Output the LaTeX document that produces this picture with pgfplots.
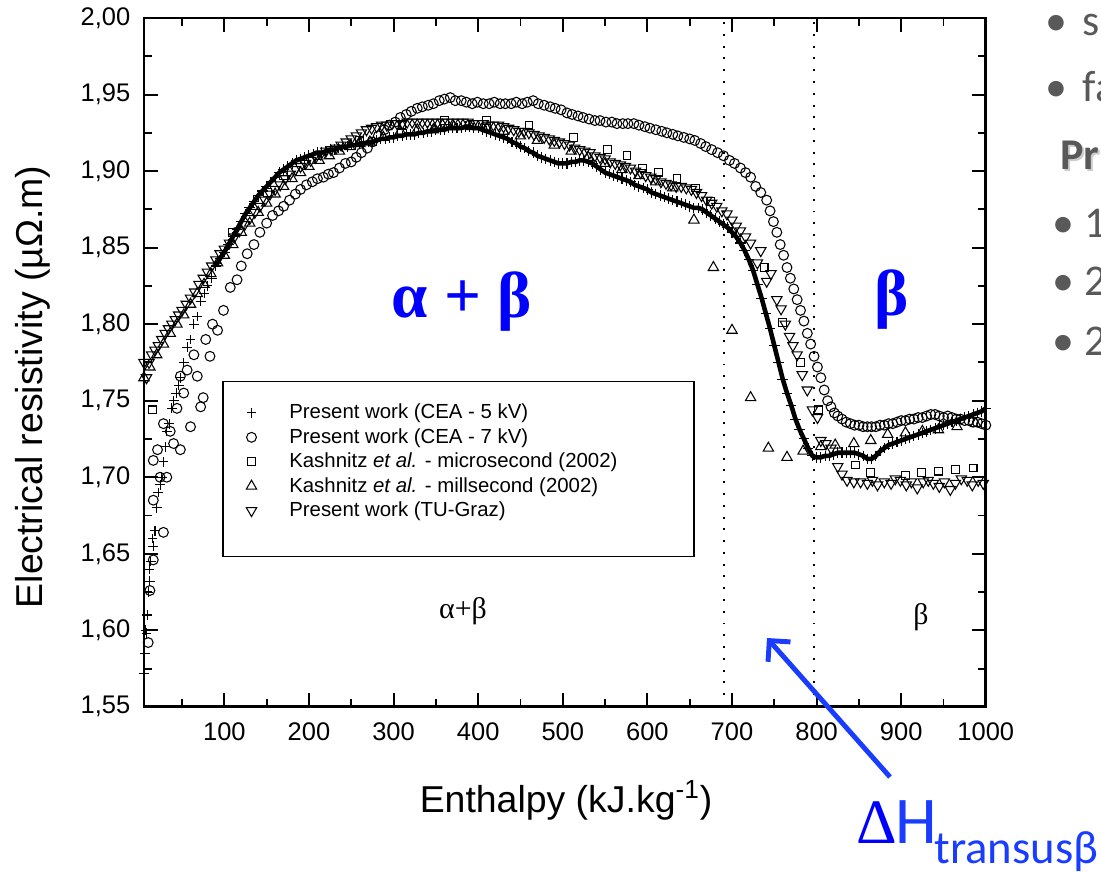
\documentclass[border=0pt]{standalone}
\usepackage{pgfplots}
\pgfplotsset{compat=1.18}
\usepackage{fontspec}
\setmainfont{Liberation Sans}
\newfontfamily\seriff{Liberation Serif}
\newfontfamily\calf{Carlito}
\usetikzlibrary{arrows.meta}
\definecolor{myblue}{RGB}{0,0,255}
\definecolor{arrblue}{RGB}{25,60,255}
\definecolor{slidegray}{RGB}{89,89,89}
\newcommand{\fs}[1]{\fontsize{#1}{#1}\selectfont}
\begin{document}
\begin{tikzpicture}
\begin{scope}[x=0.02cm,y=-0.02cm]
\useasboundingbox (0,0) rectangle (1101,868);
\end{scope}
\begin{axis}[
  at={(2.88cm,-14.14cm)}, anchor=south west,
  scale only axis, width=16.84cm, height=13.78cm,
  xmin=5, xmax=1000, ymin=1.55, ymax=2.00,
  xtick={100,200,300,400,500,600,700,800,900,1000},
  minor xtick={50,150,250,350,450,550,650,750,850,950},
  ytick={1.55,1.6,1.65,1.7,1.75,1.8,1.85,1.9,1.95,2.0},
  minor ytick={1.575,1.625,1.675,1.725,1.775,1.825,1.875,1.925,1.975},
  tick align=inside, tick pos=both,
  major tick length=0.28cm, minor tick length=0.16cm,
  every tick/.style={black, line width=1.1pt},
  axis line style={line width=1.6pt},
  /pgf/number format/assume math mode=true,
  tick label style={font=\fs{14.5pt}},
  yticklabel style={/pgf/number format/.cd, fixed, fixed zerofill, precision=2, use comma, /tikz/.cd, xshift=-0.15cm},
  xticklabel style={/pgf/number format/.cd, fixed, precision=0, 1000 sep={}, /tikz/.cd, yshift=-0.19cm},
  legend style={at={(axis description cs:0.0926,0.4732)}, anchor=north west, draw=black, line width=0.9pt,
    inner xsep=0pt, inner ysep=0.38cm, font=\fs{11.6pt}},
  legend cell align=left,
  legend image code/.code={\draw[#1] plot coordinates {(0cm,0cm)}; \path (-0.56cm,0cm) (0.67cm,0cm);},
]
% CEA 5 kV : scattered start
\addplot[only marks, mark=+, mark size=2.8pt, mark options={black, line width=0.6pt}] coordinates {
(5,1.572)(6,1.585)(7,1.600)(8,1.598)(9,1.610)(10,1.625)(11,1.640)(12,1.632)(13,1.645)(15,1.660)(16,1.655)(18,1.665)
(20,1.680)(22,1.690)(24,1.695)(26,1.700)(28,1.710)(30,1.720)(32,1.730)(35,1.735)(38,1.745)(40,1.750)(43,1.755)(46,1.760)
(48,1.765)(52,1.775)(56,1.785)(60,1.790)(64,1.800)(68,1.805)(72,1.815)(76,1.820)(80,1.825)(85,1.830)(90,1.838)
};
\addlegendentry{\makebox[8.03cm][l]{Present work (CEA - 5 kV)}}
% CEA 5 kV : dense band
\addplot[forget plot, black, line width=2.6pt, mark=+, mark size=3pt, mark options={black, line width=0.6pt}] coordinates {
(90,1.838)(95,1.843)(100,1.847)(105,1.852)(110,1.857)(115,1.862)(120,1.867)(125,1.872)(130,1.876)(135,1.880)(140,1.884)(145,1.887)
(150,1.890)(155,1.893)(160,1.896)(165,1.899)(170,1.901)(175,1.903)(180,1.905)(185,1.907)(190,1.908)(195,1.909)(200,1.910)
(205,1.911)(210,1.912)(215,1.912)(220,1.913)(225,1.914)(230,1.914)(235,1.915)(240,1.916)(245,1.916)(250,1.917)(255,1.917)
(260,1.918)(265,1.918)(270,1.919)(275,1.919)(280,1.920)(285,1.921)(290,1.921)(295,1.922)(300,1.922)(305,1.923)(310,1.923)
(315,1.924)(320,1.924)(325,1.924)(330,1.925)(335,1.925)(340,1.926)(345,1.926)(350,1.927)(355,1.927)(360,1.927)(365,1.928)
(370,1.928)(375,1.928)(380,1.928)(385,1.929)(390,1.929)(395,1.928)(400,1.928)(405,1.927)(410,1.926)(415,1.925)(420,1.924)
(425,1.923)(430,1.922)(435,1.921)(440,1.919)(445,1.918)(450,1.916)(455,1.915)(460,1.913)(465,1.912)(470,1.910)(475,1.909)
(480,1.908)(485,1.907)(490,1.906)(495,1.905)(500,1.905)(505,1.905)(510,1.906)(515,1.906)(520,1.907)(525,1.907)(530,1.906)
(535,1.905)(540,1.903)(545,1.901)(550,1.899)(555,1.898)(560,1.897)(565,1.896)(570,1.895)(575,1.894)(580,1.893)(585,1.891)
(590,1.890)(595,1.889)(600,1.888)(605,1.886)(610,1.885)(615,1.884)(620,1.883)(625,1.882)(630,1.881)(635,1.880)(640,1.879)
(645,1.878)(650,1.877)(655,1.876)(660,1.876)(665,1.875)(670,1.873)(675,1.871)(680,1.869)(685,1.867)(690,1.865)(695,1.863)
(700,1.860)(705,1.857)(710,1.853)(715,1.848)(720,1.842)(725,1.835)(730,1.826)(735,1.817)(740,1.807)(745,1.797)(750,1.786)
(755,1.775)(760,1.764)(765,1.755)(770,1.747)(775,1.738)(780,1.731)(785,1.725)(790,1.719)(795,1.714)(800,1.713)(805,1.713)
(810,1.714)(815,1.714)(820,1.715)(825,1.716)(830,1.716)(835,1.716)(840,1.716)(845,1.716)(850,1.715)(855,1.714)(860,1.712)
(865,1.712)(870,1.714)(875,1.717)(880,1.719)(885,1.721)(890,1.722)(895,1.723)(900,1.724)(905,1.725)(910,1.726)(915,1.727)
(920,1.728)(925,1.729)(930,1.730)(935,1.731)(940,1.732)(945,1.733)(950,1.734)(955,1.735)(960,1.736)(965,1.737)(970,1.738)
(975,1.739)(980,1.740)(985,1.741)(990,1.742)(995,1.743)(1000,1.745)
};
% CEA 7 kV
\addplot[only marks, mark=o, mark size=2.8pt, mark options={black, fill=white, line width=0.6pt}] coordinates {
(10,1.592)(12,1.626)(16,1.646)(28,1.664)(16,1.685)(24,1.700)(32,1.700)(16,1.711)(21,1.718)(40,1.722)(28,1.735)(36,1.730)
(48,1.718)(44,1.745)(60,1.733)(52,1.755)(72,1.746)(75,1.752)(56,1.770)(48,1.766)(68,1.766)(64,1.780)(83,1.779)(78,1.790)
(92,1.796)(86,1.800)(99,1.809)(107,1.824)(115,1.829)(120,1.838)(127,1.846)(135,1.852)(142,1.860)(150,1.866)(157,1.871)
(164,1.874)(170,1.877)(177,1.881)(184,1.885)(190,1.888)(197,1.891)(204,1.893)(210,1.895)(217,1.896)(223,1.898)(229,1.899)
(236,1.902)(243,1.905)(250,1.906)(256,1.909)(262,1.912)(269,1.915)(275,1.919)(282,1.923)(289,1.927)(295,1.930)(302,1.932)
(308,1.935)(315,1.937)(321,1.939)(328,1.941)(334,1.942)(341,1.943)(347,1.944)(354,1.946)(360,1.947)(367,1.948)(373,1.946)
(380,1.946)(386,1.945)(393,1.944)(399,1.945)(406,1.944)(413,1.944)(419,1.945)(426,1.944)(432,1.944)(439,1.944)(445,1.945)
(452,1.944)(458,1.945)(465,1.946)(471,1.944)(478,1.943)(485,1.942)(491,1.941)(498,1.940)(505,1.938)(511,1.937)(518,1.936)
(524,1.935)(531,1.934)(538,1.933)(544,1.933)(551,1.932)(558,1.932)(564,1.931)(571,1.931)(577,1.931)(584,1.931)(590,1.930)
(597,1.929)(603,1.928)(610,1.927)(617,1.926)(623,1.925)(630,1.924)(636,1.923)(643,1.922)(650,1.921)(656,1.920)(663,1.918)
(669,1.916)(676,1.914)(683,1.912)(690,1.910)(697,1.907)(703,1.905)(710,1.902)(716,1.899)(722,1.896)(728,1.890)(734,1.886)
(741,1.881)(745,1.874)(749,1.867)(753,1.860)(757,1.852)(761,1.845)(765,1.837)(769,1.830)(773,1.823)(777,1.816)(781,1.809)
(785,1.802)(789,1.794)(793,1.787)(797,1.779)(801,1.772)(805,1.765)(809,1.757)(813,1.750)(817,1.746)(821,1.742)(825,1.740)
(830,1.738)(835,1.736)(840,1.735)(845,1.734)(850,1.734)(855,1.733)(860,1.733)(865,1.733)(870,1.733)(875,1.734)(880,1.734)
(885,1.735)(890,1.735)(895,1.736)(900,1.737)(905,1.737)(910,1.738)(915,1.738)(920,1.739)(925,1.739)(930,1.740)(935,1.741)
(940,1.741)(945,1.740)(950,1.739)(955,1.740)(960,1.739)(965,1.738)(970,1.738)(975,1.737)(980,1.737)(985,1.736)(990,1.736)
(995,1.735)(1000,1.734)
};
\addlegendentry{Present work (CEA - 7 kV)}
% Kashnitz microsecond
\addplot[only marks, mark=square, mark size=2.2pt, mark options={black, fill=white, line width=0.6pt}] coordinates {
(15,1.744)(110,1.860)(151,1.886)(170,1.897)(210,1.910)(260,1.920)(310,1.930)(360,1.933)(410,1.933)(460,1.930)
(513,1.922)(553,1.914)(576,1.910)(594,1.902)(613,1.899)(635,1.895)(657,1.889)(675,1.880)(738,1.837)(760,1.801)
(781,1.775)(802,1.744)(846,1.708)(864,1.703)(905,1.701)(924,1.703)(944,1.704)(964,1.705)(985,1.706)
};
\addlegendentry{Kashnitz \textit{et al.} - microsecond (2002)}
% Kashnitz millisecond
\addplot[only marks, mark=triangle, mark size=3.4pt, mark options={black, fill=white, line width=0.6pt}] coordinates {
(5,1.765)(12,1.772)(20,1.780)(28,1.787)(36,1.794)(44,1.800)(52,1.806)(60,1.813)(68,1.820)(76,1.826)(84,1.833)(92,1.840)
(100,1.845)(110,1.852)(120,1.860)(130,1.866)(140,1.873)(150,1.879)(160,1.885)(170,1.890)(180,1.895)(190,1.899)(200,1.903)
(212,1.907)(224,1.910)(236,1.913)(248,1.916)(260,1.918)(272,1.919)(288,1.922)(308,1.926)(328,1.927)(347,1.927)(371,1.929)
(391,1.929)(410,1.928)(430,1.926)(450,1.923)(470,1.920)(490,1.917)(510,1.913)(530,1.909)(550,1.905)(570,1.901)(590,1.897)
(610,1.893)(630,1.889)(655,1.868)(678,1.837)(700,1.796)(722,1.752)(743,1.719)(765,1.713)(784,1.717)(805,1.720)(822,1.721)
(844,1.722)(864,1.724)(884,1.728)(905,1.729)(925,1.730)(944,1.731)(966,1.733)(988,1.735)
};
\addlegendentry{Kashnitz \textit{et al.} - millsecond (2002)}
% TU-Graz
\addplot[only marks, mark=triangle, mark size=3.4pt, mark options={black, fill=white, line width=0.6pt, rotate=180}] coordinates {
(5,1.775)(8,1.765)(11,1.775)(14,1.780)(18,1.783)(22,1.786)(26,1.790)(30,1.794)(34,1.797)(38,1.800)(42,1.803)(46,1.806)
(50,1.809)(55,1.813)(60,1.817)(65,1.821)(70,1.826)(75,1.830)(80,1.834)(85,1.838)(90,1.842)(95,1.846)(100,1.849)(106,1.853)
(112,1.857)(118,1.861)(124,1.865)(130,1.869)(136,1.873)(142,1.877)(148,1.881)(154,1.885)(160,1.888)(166,1.891)(172,1.895)
(178,1.898)(184,1.901)(190,1.903)(196,1.905)(202,1.907)(208,1.909)(214,1.911)(220,1.913)(226,1.914)(232,1.915)(238,1.917)
(244,1.919)(250,1.921)(256,1.923)(262,1.925)(268,1.927)(274,1.928)(280,1.929)(286,1.930)(292,1.930)(298,1.931)(304,1.931)
(310,1.931)(316,1.932)(322,1.932)(328,1.932)(334,1.932)(340,1.932)(346,1.932)(352,1.932)(358,1.932)(364,1.932)(370,1.932)
(376,1.932)(382,1.932)(388,1.932)(394,1.931)(400,1.931)(406,1.931)(412,1.930)(418,1.930)(424,1.930)(430,1.929)(436,1.928)
(442,1.927)(448,1.926)(454,1.926)(460,1.925)(466,1.924)(472,1.923)(478,1.922)(484,1.921)(490,1.920)(496,1.919)(502,1.918)
(508,1.917)(514,1.915)(520,1.914)(526,1.913)(532,1.912)(538,1.910)(544,1.909)(550,1.908)(556,1.906)(562,1.905)(568,1.904)
(574,1.903)(580,1.902)(586,1.900)(592,1.899)(598,1.897)(604,1.896)(610,1.895)(616,1.893)(622,1.892)(628,1.891)(634,1.890)
(640,1.890)(646,1.889)(652,1.888)(658,1.886)(664,1.884)(670,1.881)(676,1.879)(682,1.877)(688,1.874)(694,1.872)(700,1.868)
(705,1.864)(710,1.861)(716,1.857)(722,1.853)(730,1.840)(734,1.848)(741,1.828)(746,1.833)(753,1.816)(758,1.810)(763,1.800)
(768,1.792)(772,1.786)(777,1.780)(783,1.767)(789,1.757)(795,1.744)(801,1.739)(805,1.724)(811,1.722)(817,1.719)(825,1.707)
(830,1.702)(836,1.698)(844,1.697)(852,1.697)(860,1.696)(866,1.698)(872,1.695)(880,1.697)(888,1.696)(893,1.699)(899,1.698)
(906,1.695)(912,1.697)(919,1.693)(926,1.697)(932,1.698)(938,1.696)(945,1.694)(951,1.697)(958,1.692)(964,1.696)(971,1.699)
(978,1.698)(984,1.695)(991,1.698)(997,1.696)
};
\addlegendentry{Present work (TU-Graz)}
\addlegendimage{empty legend}
\addlegendentry{\rule{0pt}{0.1cm}}
% dotted transus lines
\addplot[forget plot, black, line width=1.1pt, dash pattern=on 1.1pt off 5.6pt] coordinates {(690,1.55)(690,2.0)};
\addplot[forget plot, black, line width=1.1pt, dash pattern=on 1.1pt off 5.6pt] coordinates {(797,1.55)(797,2.0)};
\end{axis}
\begin{scope}[x=0.02cm,y=-0.02cm]
% axis labels
\node[rotate=90, anchor=base, inner sep=0pt, font=\fs{21.3pt}] at (42,387) {Electrical resistivity (µΩ.m)};
\node[anchor=base, inner sep=0pt, font=\fs{21.3pt}] at (566,812) {Enthalpy (kJ.kg\textsuperscript{-1})};
% phase labels
\node[anchor=base, inner sep=0pt, text=myblue, font=\seriff\bfseries\fs{37pt}] at (462,318) {α + β};
\node[anchor=base, inner sep=0pt, text=myblue, font=\seriff\bfseries\fs{37pt}] at (892,316) {β};
\node[anchor=base, inner sep=0pt, font=\seriff\fs{17pt}] at (463,618) {α+β};
\node[anchor=base, inner sep=0pt, font=\seriff\fs{17pt}] at (921,624) {β};
% arrow and transus label
\draw[arrblue, line width=2.8pt, -{Straight Barb[length=0.3cm,width=0.6cm]}] (890,777) -- (767,638);
\node[anchor=base west, inner sep=0pt, text=myblue, font=\seriff\fs{36pt}] at (856,843) {Δ};
\node[anchor=base west, inner sep=0pt, text=arrblue, font=\calf\fs{38pt}] at (895,843) {H};
\node[anchor=base west, inner sep=0pt, text=arrblue, font=\calf\fs{26.6pt}] at (934,863) {transusβ};
% slide fragments
\begin{scope}
\clip (0,0) rectangle (1101,868);
\node[anchor=base west, inner sep=0pt, text=slidegray, font=\calf\fs{25pt}] at (1045,36) {•\hspace{0.35em}s};
\node[anchor=base west, inner sep=0pt, text=slidegray, font=\calf\fs{25pt}] at (1045,102) {•\hspace{0.35em}fa};
\node[anchor=base west, inner sep=0pt, text=black!20, font=\calf\bfseries\fs{25pt}] at (1062,172) {Pr};
\node[anchor=base west, inner sep=0pt, text=slidegray, font=\calf\bfseries\fs{25pt}] at (1060,170) {Pr};
\node[anchor=base west, inner sep=0pt, text=slidegray, font=\calf\fs{25pt}] at (1052,238) {•};
\node[anchor=base west, inner sep=0pt, text=slidegray, font=\calf\fs{25pt}] at (1084,238) {1};
\node[anchor=base west, inner sep=0pt, text=slidegray, font=\calf\fs{25pt}] at (1052,296) {•};
\node[anchor=base west, inner sep=0pt, text=slidegray, font=\calf\fs{25pt}] at (1084,296) {2};
\node[anchor=base west, inner sep=0pt, text=slidegray, font=\calf\fs{25pt}] at (1052,356) {•};
\node[anchor=base west, inner sep=0pt, text=slidegray, font=\calf\fs{25pt}] at (1084,356) {2};
\end{scope}
\end{scope}
\end{tikzpicture}
\end{document}
